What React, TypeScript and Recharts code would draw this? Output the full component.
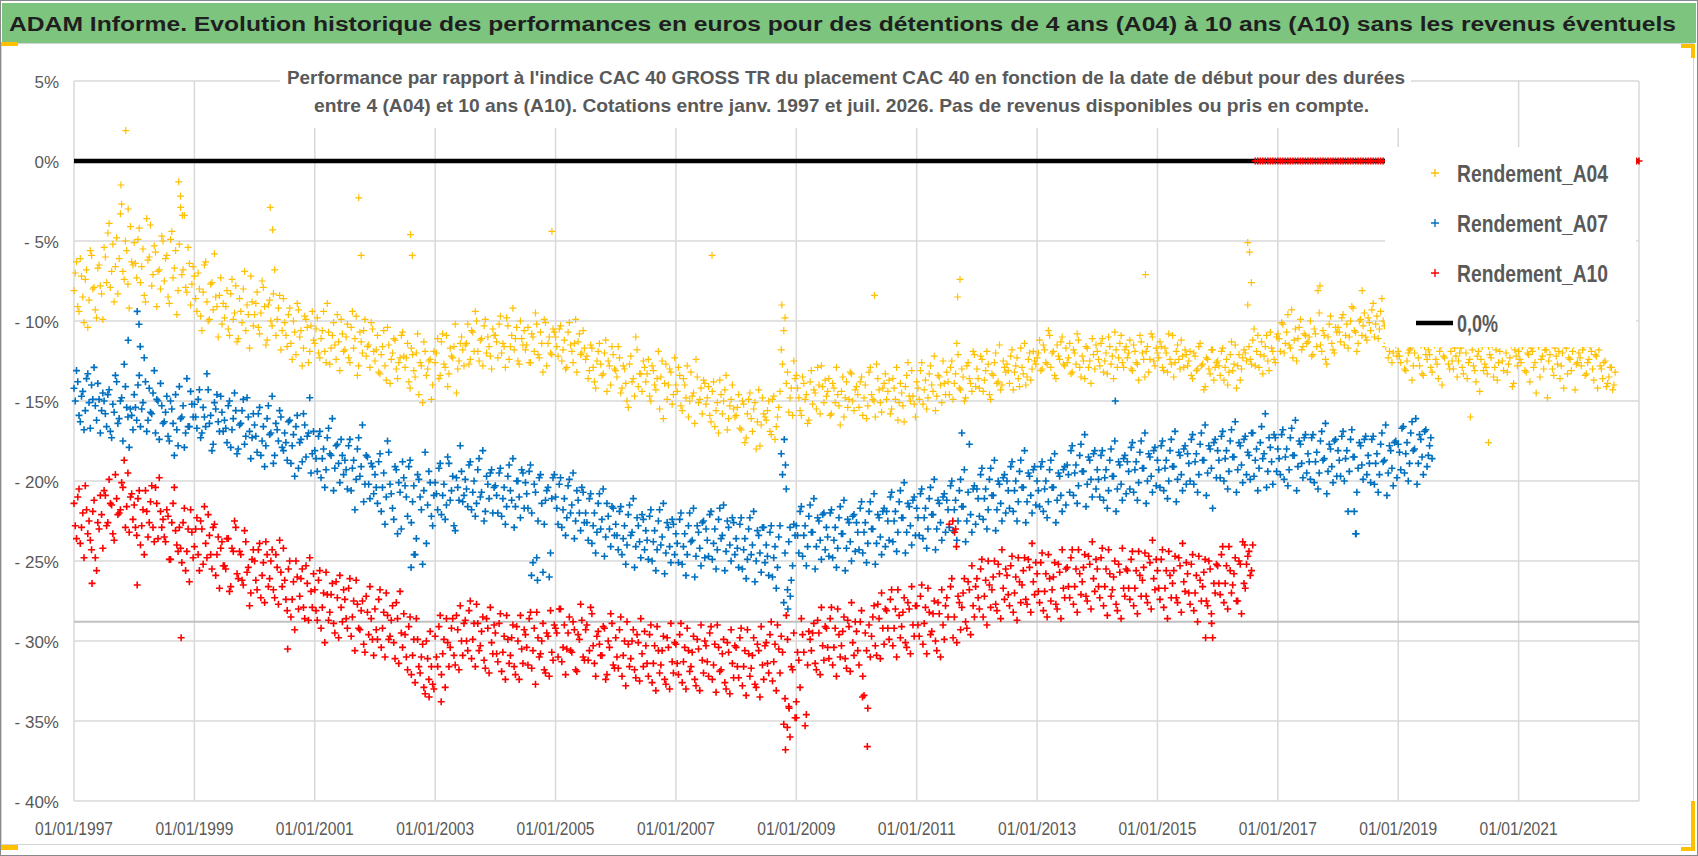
import React from 'react';
import { ScatterChart, Scatter, XAxis, YAxis, CartesianGrid, ReferenceLine, Legend } from 'recharts';

// relevés semi-mensuels à partir du 01/01/1997 (série "b" décalée d'une semaine)
const START_YEAR = 1997;
const PER_YEAR = 24;

const xTicks = [1997, 1999, 2001, 2003, 2005, 2007, 2009, 2011, 2013, 2015, 2017, 2019, 2021];
const yTicks = [5, 0, -5, -10, -15, -20, -25, -30, -35, -40];
const xDomain = [1997, 2023];
const yDomain = [-40, 5];
const refLevel = -28.8;
const zeroLine = [1997, 2023];

const rendementA04 = [
  -8.1, -6.3, -9.4, -7.2, -10.1, -6.8, -8.7, -5.9, -7.9, -9.8, -6.5, -8.3, -5.4, -7.6, -3.9, -6.9, -8.8, -4.8, -6.1, -2.7, -7.4, -5.6, -9.2, -6.3, // 1997
  -5.1, -7.3, -4.2, -6.6, -8.4, -3.6, -6.0, -7.8, -5.3, -9.1, -6.8, -4.7, -7.5, -5.9, -8.9, -4.4, -6.7, -9.6, -5.2, -7.1, -3.4, -8.2, -6.4, -7.7, // 1998
  -7.2, -9.4, -8.0, -10.6, -6.5, -8.8, -9.9, -7.6, -5.8, -9.1, -8.4, -10.2, -9.8, -8.1, -10.9, -7.4, -9.5, -11.3, -8.6, -10.1, -6.9, -9.0, -11.7, -8.8, // 1999
  -9.6, -8.2, -10.8, -7.5, -9.1, -11.2, -8.7, -10.3, -6.8, -9.9, -8.4, -10.6, -10.1, -11.6, -9.2, -12.4, -10.7, -8.9, -11.0, -12.8, -9.7, -10.4, -11.9, -9.4, // 2000
  -11.4, -9.8, -12.3, -10.6, -11.9, -8.9, -12.7, -10.9, -11.5, -9.6, -13.1, -10.8, -11.8, -10.2, -12.6, -9.4, -11.1, -13.4, -10.7, -12.0, -9.9, -11.6, -12.9, -10.5, // 2001
  -12.5, -10.9, -13.3, -11.6, -12.8, -10.4, -13.9, -12.0, -11.2, -13.6, -12.3, -10.7, -12.9, -11.4, -14.2, -12.1, -13.5, -10.8, -12.6, -15.1, -11.9, -13.0, -12.4, -14.0, // 2002
  -12.6, -11.1, -13.4, -10.8, -12.9, -14.1, -11.7, -12.3, -10.2, -13.0, -11.4, -11.8, -11.5, -10.2, -12.4, -10.7, -9.4, -11.9, -11.2, -12.8, -9.9, -11.0, -12.2, -10.5, // 2003
  -10.9, -12.3, -9.7, -11.4, -12.9, -10.3, -11.6, -9.2, -11.1, -12.5, -10.0, -11.5, -11.8, -10.4, -12.6, -11.0, -9.5, -12.1, -10.7, -13.2, -10.1, -11.4, -12.0, -10.5, // 2004
  -11.0, -12.2, -10.3, -11.8, -13.0, -10.7, -11.5, -12.6, -9.9, -11.3, -12.1, -10.6, -12.4, -13.6, -11.5, -12.9, -14.2, -11.9, -12.7, -13.3, -11.2, -12.5, -14.0, -12.1, // 2005
  -13.1, -11.6, -14.5, -12.8, -13.9, -15.4, -12.2, -13.6, -11.0, -14.1, -13.3, -12.5, -13.8, -12.4, -15.0, -13.1, -14.3, -11.9, -13.5, -16.1, -12.7, -14.0, -13.2, -14.6, // 2006
  -14.0, -12.9, -15.3, -13.6, -14.8, -16.0, -13.2, -14.5, -12.4, -15.1, -14.2, -13.7, -15.2, -14.1, -16.3, -13.8, -15.6, -17.0, -14.6, -15.0, -13.4, -16.1, -14.9, -15.5, // 2007
  -15.9, -14.6, -16.8, -15.2, -17.3, -14.9, -16.1, -15.5, -18.0, -14.3, -16.5, -15.8, -16.2, -15.0, -17.1, -14.7, -16.6, -15.4, -11.8, -10.6, -13.9, -15.7, -14.2, -12.5, // 2008
  -13.4, -14.8, -15.9, -13.9, -14.6, -16.2, -13.1, -14.3, -15.5, -14.0, -12.8, -15.1, -14.7, -13.6, -15.8, -14.2, -12.9, -15.3, -14.4, -16.0, -13.8, -14.9, -13.3, -15.6, // 2009
  -14.1, -15.4, -13.5, -14.8, -16.1, -13.2, -14.6, -15.0, -12.7, -14.3, -15.7, -13.9, -14.9, -13.7, -15.5, -14.2, -12.9, -15.1, -14.5, -16.3, -13.4, -14.7, -13.1, -15.2, // 2010
  -13.8, -14.9, -12.6, -14.3, -15.5, -13.3, -14.0, -12.2, -14.7, -13.5, -15.1, -13.9, -13.2, -14.6, -12.5, -13.9, -11.4, -14.2, -13.0, -15.0, -12.8, -13.6, -14.4, -12.1, // 2011
  -13.0, -14.2, -12.4, -13.7, -11.9, -14.6, -13.3, -12.6, -13.9, -11.5, -14.0, -12.9, -12.7, -13.9, -11.8, -13.2, -12.3, -14.1, -12.9, -11.4, -13.5, -12.0, -13.0, -12.5, // 2012
  -12.3, -11.2, -13.0, -11.8, -12.7, -10.9, -12.0, -13.4, -11.5, -12.4, -11.0, -12.8, -12.6, -11.4, -13.2, -12.0, -10.8, -12.9, -12.2, -13.6, -11.7, -12.5, -11.1, -13.0, // 2013
  -11.9, -12.8, -11.1, -12.5, -13.3, -11.6, -12.2, -10.7, -12.9, -11.4, -12.6, -11.8, -12.3, -11.2, -13.1, -11.9, -12.7, -10.9, -12.0, -13.5, -11.6, -12.4, -11.0, -12.8, // 2014
  -12.0, -11.3, -12.9, -11.7, -13.2, -12.4, -10.9, -12.6, -11.5, -13.0, -12.2, -11.8, -12.8, -11.9, -13.6, -12.2, -13.0, -11.4, -12.7, -14.1, -12.4, -13.3, -11.8, -12.9, // 2015
  -12.5, -13.4, -11.7, -12.9, -14.0, -12.1, -13.1, -11.5, -12.8, -13.7, -12.3, -12.0, -9.0, -12.4, -11.2, -12.8, -10.9, -12.1, -13.3, -11.6, -12.5, -10.7, -11.9, -12.6, // 2016
  -10.8, -11.9, -10.2, -11.4, -9.6, -11.7, -12.3, -10.5, -11.1, -9.9, -11.6, -10.9, -11.3, -10.0, -12.1, -10.8, -8.1, -11.5, -10.6, -12.4, -11.0, -9.7, -11.8, -10.4, // 2017
  -10.4, -11.3, -9.6, -10.9, -11.7, -10.0, -9.2, -10.7, -11.4, -9.9, -10.3, -11.0, -9.8, -10.6, -8.9, -10.2, -11.1, -9.4, -10.0, -11.6, -12.3, -11.1, -12.0, -11.5, // 2018
  -11.9, -12.6, -11.2, -13.1, -12.0, -11.7, -12.8, -10.9, -12.3, -11.5, -13.4, -12.1, -11.8, -12.9, -11.1, -12.4, -13.6, -11.6, -12.2, -10.8, -12.7, -11.9, -13.0, -12.2, // 2019
  -12.5, -11.7, -13.3, -12.0, -12.6, -11.4, -12.8, -13.8, -11.9, -12.4, -13.1, -12.9, -11.6, -12.3, -13.5, -11.8, -12.6, -11.2, -13.1, -12.0, -12.7, -11.5, -13.9, -12.2, // 2020
  -11.9, -12.6, -11.3, -13.2, -12.1, -11.7, -12.9, -14.5, -11.6, -12.4, -13.0, -11.8, -12.5, -11.4, -13.4, -12.2, -11.9, -12.8, -14.2, -11.7, -12.3, -13.1, -11.5, -12.7, // 2021
  -12.0, -12.8, -11.6, -13.3, -12.4, -11.9, -13.7, -12.2, -11.8, -13.0, -12.6, -14.1, -13.5, -12.9, -14.0, // 2022
];

const rendementA04b = [
  -7.0, -9.1, -6.1, -8.5, -7.4, -10.4, -5.6, -8.0, -9.3, -6.7, -7.8, -9.9, -6.0, -4.5, -7.9, -5.2, -6.6, -8.3, -3.3, -6.9, -5.0, -7.7, -4.1, -6.5, // 1997
  -6.4, -4.9, -7.6, -5.5, -8.8, -6.2, -4.0, -7.1, -5.7, -6.9, -8.0, -5.0, -6.1, -8.5, -4.9, -7.3, -5.6, -8.1, -2.9, -6.8, -7.9, -5.4, -9.0, -6.6, // 1998
  -8.6, -7.0, -9.7, -8.2, -6.3, -10.0, -7.7, -9.3, -8.5, -11.0, -7.3, -8.9, -9.1, -10.5, -8.3, -9.9, -7.8, -11.1, -9.4, -8.0, -10.6, -9.6, -7.2, -10.3, // 1999
  -8.9, -10.4, -9.5, -7.9, -11.5, -9.0, -10.0, -8.3, -10.9, -9.2, -11.8, -8.6, -10.9, -9.6, -11.4, -10.0, -12.1, -9.3, -10.6, -11.7, -9.9, -12.6, -10.3, -11.2, // 2000
  -10.5, -12.0, -11.1, -9.4, -12.6, -10.7, -11.7, -10.1, -12.4, -11.3, -9.9, -11.9, -11.0, -12.3, -10.4, -11.7, -9.7, -12.8, -11.3, -10.6, -12.2, -11.5, -10.1, -11.9, // 2001
  -11.8, -13.2, -12.1, -10.6, -13.7, -11.5, -12.4, -11.1, -13.0, -12.6, -10.9, -12.2, -12.3, -13.8, -11.7, -13.1, -12.0, -14.6, -12.8, -11.3, -13.4, -12.5, -14.9, -11.9, // 2002
  -12.0, -13.6, -11.3, -12.7, -10.9, -13.3, -12.2, -11.6, -14.5, -12.5, -11.0, -12.8, -11.4, -12.7, -10.6, -11.9, -10.0, -12.5, -11.1, -10.3, -12.0, -11.6, -13.0, -10.9, // 2003
  -11.3, -10.2, -12.0, -11.6, -9.8, -12.4, -10.9, -11.8, -10.4, -12.7, -11.1, -10.6, -11.5, -12.6, -10.8, -11.9, -10.2, -12.3, -11.4, -9.9, -12.8, -11.0, -12.1, -10.7, // 2004
  -11.6, -10.5, -12.5, -11.2, -12.9, -10.1, -11.9, -11.4, -13.2, -10.8, -12.0, -11.7, -12.2, -13.1, -11.7, -13.8, -12.5, -11.4, -13.4, -12.0, -14.4, -12.8, -11.6, -13.0, // 2005
  -13.5, -12.3, -14.2, -13.0, -15.0, -12.7, -13.8, -14.7, -11.8, -13.3, -14.4, -12.9, -13.3, -14.7, -12.8, -14.0, -13.6, -15.5, -12.5, -13.9, -14.9, -13.0, -15.2, -12.3, // 2006
  -14.4, -13.4, -15.6, -14.0, -12.8, -15.0, -14.7, -16.4, -13.5, -14.9, -15.8, -13.9, -14.8, -15.9, -14.4, -16.6, -15.1, -13.7, -15.8, -14.3, -16.8, -15.3, -14.0, -16.0, // 2007
  -15.4, -16.7, -15.0, -17.6, -15.8, -14.5, -16.9, -15.1, -16.3, -17.8, -14.8, -16.0, -15.6, -16.9, -14.9, -17.4, -16.0, -14.4, -12.7, -9.8, -13.2, -14.8, -15.9, -13.6, // 2008
  -14.2, -15.6, -13.5, -14.9, -16.4, -13.8, -15.2, -14.5, -12.9, -15.8, -14.1, -13.7, -14.4, -15.9, -13.9, -15.1, -14.6, -16.5, -13.5, -14.8, -15.4, -13.2, -15.0, -14.3, // 2009
  -14.6, -13.8, -15.9, -14.0, -15.3, -12.9, -14.9, -16.0, -13.6, -15.1, -14.2, -13.3, -14.4, -15.8, -13.6, -14.9, -16.2, -13.9, -15.3, -14.1, -12.6, -15.0, -14.7, -16.0, // 2010
  -14.2, -13.1, -15.2, -13.7, -14.8, -12.8, -14.4, -15.6, -13.4, -14.0, -12.5, -14.6, -13.8, -12.9, -14.9, -13.3, -12.1, -14.3, -13.5, -14.8, -12.6, -13.9, -11.9, -14.1, // 2011
  -13.6, -12.2, -14.4, -13.1, -12.7, -14.9, -13.4, -12.0, -13.8, -14.3, -12.5, -13.2, -13.1, -12.2, -14.3, -12.8, -13.6, -11.7, -13.3, -14.0, -12.4, -13.7, -11.9, -12.7, // 2012
  -12.0, -13.1, -11.5, -12.6, -10.6, -12.9, -11.9, -13.6, -12.2, -11.3, -12.7, -11.7, -12.3, -13.3, -11.8, -12.7, -11.2, -13.5, -12.5, -11.6, -12.9, -13.9, -12.1, -11.5, // 2013
  -12.4, -11.4, -13.2, -12.0, -11.0, -12.7, -13.6, -11.8, -12.3, -10.9, -12.9, -11.6, -12.0, -13.0, -11.5, -12.6, -13.7, -11.3, -12.4, -11.9, -13.2, -10.8, -12.5, -11.7, // 2014
  -12.3, -11.6, -13.1, -12.0, -10.8, -12.7, -13.5, -11.9, -12.4, -11.2, -12.9, -12.1, -12.5, -13.4, -12.0, -13.1, -11.6, -12.8, -14.3, -12.3, -13.0, -11.8, -13.7, -12.6, // 2015
  -12.8, -11.9, -13.7, -12.4, -13.2, -11.3, -12.7, -14.2, -12.1, -13.0, -11.8, -12.5, -11.6, -12.7, -10.5, -11.9, -12.9, -11.3, -12.2, -10.9, -13.1, -11.7, -12.4, -11.0, // 2016
  -11.1, -10.1, -12.0, -10.7, -11.5, -9.3, -11.2, -12.5, -10.4, -11.8, -10.8, -11.4, -11.0, -12.2, -10.5, -11.6, -9.5, -11.9, -10.9, -12.7, -10.2, -11.4, -12.0, -10.7, // 2017
  -10.7, -9.8, -11.5, -10.2, -11.0, -9.1, -10.6, -11.9, -10.0, -10.9, -9.5, -11.2, -10.1, -9.3, -11.0, -9.7, -10.5, -8.6, -10.3, -11.4, -11.9, -12.6, -11.4, -12.2, // 2018
  -12.2, -11.4, -13.0, -12.5, -11.8, -13.7, -12.0, -11.2, -12.8, -13.3, -11.6, -12.4, -12.1, -13.2, -11.5, -12.7, -11.9, -14.0, -12.3, -11.3, -13.0, -12.5, -11.7, -13.5, // 2019
  -12.0, -12.9, -11.3, -13.6, -12.4, -11.8, -13.1, -12.2, -14.4, -11.6, -12.7, -13.3, -12.1, -11.5, -12.9, -13.7, -11.9, -12.5, -11.4, -13.2, -12.3, -14.1, -11.8, -12.8, // 2020
  -12.4, -11.6, -13.1, -12.0, -13.8, -11.9, -12.6, -11.3, -13.5, -12.2, -11.8, -14.8, -12.1, -13.0, -11.7, -12.7, -13.6, -12.0, -11.5, -13.3, -12.4, -11.9, -14.3, -12.6, // 2021
  -12.3, -11.8, -13.4, -12.6, -11.6, -13.0, -12.1, -14.2, -12.8, -13.6, -12.5, -13.9, -12.9, -14.3, -13.2, // 2022
];

const rendementA07 = [
  -14.2, -13.1, -15.9, -14.7, -16.8, -13.6, -15.1, -14.0, -12.9, -16.2, -14.9, -15.6, -15.0, -16.6, -14.3, -17.3, -15.7, -13.8, -16.1, -14.8, -12.7, -15.4, -17.9, -15.9, // 1997
  -14.6, -16.2, -13.4, -15.5, -12.3, -16.9, -14.2, -15.8, -13.1, -14.9, -17.4, -15.3, -16.3, -14.7, -17.5, -15.5, -18.4, -16.8, -14.1, -16.0, -17.9, -13.6, -16.6, -15.2, // 1998
  -15.2, -16.7, -14.3, -17.0, -16.0, -13.3, -16.4, -18.1, -15.1, -14.6, -16.9, -15.7, -16.2, -17.6, -15.0, -16.8, -14.5, -18.3, -16.5, -15.6, -17.7, -14.8, -16.9, -17.3, // 1999
  -16.5, -18.2, -15.4, -17.5, -19.1, -16.1, -17.1, -14.7, -18.4, -16.8, -15.6, -17.9, -17.0, -18.7, -16.2, -17.8, -19.7, -15.9, -17.6, -18.8, -16.5, -17.2, -14.8, -18.3, // 2000
  -18.1, -19.4, -16.9, -18.6, -20.4, -17.3, -18.3, -16.1, -19.2, -17.7, -20.1, -18.4, -18.7, -20.5, -17.4, -19.2, -21.8, -18.0, -19.7, -16.5, -20.2, -18.5, -21.1, -19.1, // 2001
  -19.6, -21.4, -18.3, -20.4, -22.7, -17.5, -20.2, -21.7, -19.1, -23.3, -20.7, -18.8, -20.3, -22.2, -18.7, -21.3, -24.6, -19.6, -21.0, -25.2, -18.2, -21.5, -20.1, -22.8, // 2002
  -20.1, -21.8, -18.9, -20.9, -22.4, -18.5, -21.2, -19.7, -23.1, -20.4, -17.8, -21.3, -19.9, -21.6, -18.8, -20.7, -22.2, -19.3, -21.0, -18.1, -21.9, -20.2, -19.5, -22.0, // 2003
  -20.3, -22.0, -19.2, -21.1, -22.7, -19.7, -20.6, -18.6, -21.6, -20.0, -22.3, -19.5, -20.1, -21.7, -19.0, -25.1, -20.7, -22.5, -19.6, -25.7, -21.2, -20.4, -24.5, -19.8, // 2004
  -21.0, -22.7, -19.8, -21.8, -23.4, -20.3, -22.0, -19.5, -22.5, -21.2, -23.1, -20.7, -22.0, -23.7, -20.8, -22.8, -24.5, -21.4, -23.0, -20.5, -23.5, -22.2, -24.1, -21.7, // 2005
  -22.7, -24.3, -21.6, -23.6, -25.2, -22.1, -23.4, -21.1, -24.1, -22.8, -24.8, -22.4, -23.1, -24.9, -21.8, -23.8, -25.6, -22.5, -24.0, -21.4, -24.5, -22.9, -25.1, -22.7, // 2006
  -23.3, -25.1, -22.0, -24.1, -25.9, -22.8, -23.8, -21.7, -24.7, -23.2, -25.3, -22.5, -23.0, -24.7, -21.9, -23.9, -25.5, -22.4, -23.6, -21.5, -24.4, -22.9, -25.0, -22.6, // 2007
  -23.6, -25.4, -22.3, -24.3, -26.1, -23.0, -24.6, -21.9, -25.0, -23.4, -25.7, -22.9, -24.0, -25.9, -22.8, -24.8, -26.7, -23.5, -18.3, -27.6, -20.5, -23.8, -26.2, -22.7, // 2008
  -22.8, -24.5, -21.6, -23.4, -25.3, -22.2, -23.2, -21.1, -24.1, -22.5, -24.9, -22.0, -22.9, -24.7, -21.8, -23.7, -25.4, -22.3, -23.3, -21.2, -24.2, -22.6, -25.0, -22.1, // 2009
  -22.6, -24.3, -21.3, -23.2, -25.1, -21.9, -23.0, -20.8, -23.9, -22.3, -24.6, -21.7, -21.9, -23.7, -20.7, -22.5, -24.4, -21.3, -22.3, -20.1, -23.2, -21.6, -24.0, -21.0, // 2010
  -21.7, -23.4, -20.5, -22.3, -24.2, -21.1, -22.1, -19.9, -23.0, -21.4, -23.7, -20.8, -21.2, -22.9, -20.0, -21.8, -23.7, -20.6, -21.6, -19.3, -22.5, -17.7, -23.2, -20.3, // 2011
  -20.5, -22.2, -19.2, -21.1, -23.0, -19.9, -20.9, -18.7, -21.8, -20.2, -22.5, -19.6, -20.0, -21.7, -18.8, -20.6, -22.5, -19.4, -20.4, -18.1, -21.3, -19.7, -22.0, -19.1, // 2012
  -20.0, -21.6, -18.8, -20.5, -22.3, -19.3, -20.4, -18.3, -21.2, -19.7, -21.9, -19.1, -19.0, -20.7, -17.8, -19.5, -21.4, -18.4, -19.4, -17.1, -20.2, -18.7, -21.0, -18.1, // 2013
  -19.3, -21.0, -18.1, -19.8, -21.7, -18.7, -19.7, -17.5, -20.5, -19.0, -21.2, -18.4, -18.8, -20.5, -17.6, -19.3, -21.2, -18.2, -19.2, -17.0, -20.0, -18.5, -20.7, -17.9, // 2014
  -18.7, -20.4, -17.5, -19.2, -21.1, -18.1, -19.1, -16.9, -19.9, -18.4, -20.6, -17.8, -18.3, -20.0, -17.1, -18.8, -20.7, -17.7, -18.7, -16.5, -19.5, -18.0, -21.7, -17.4, // 2015
  -18.1, -19.8, -16.9, -18.6, -20.5, -17.5, -18.5, -16.3, -19.3, -17.8, -20.1, -17.2, -18.2, -19.9, -17.0, -18.7, -20.6, -17.6, -18.6, -15.8, -19.4, -17.9, -20.2, -17.3, // 2016
  -18.0, -19.6, -16.8, -18.5, -20.3, -17.3, -18.4, -16.2, -19.1, -17.7, -19.8, -17.1, -18.3, -19.9, -17.1, -18.8, -20.5, -17.5, -18.7, -16.4, -19.4, -18.0, -20.1, -17.4, // 2017
  -18.1, -19.7, -16.9, -18.6, -21.9, -17.4, -18.5, -23.3, -19.2, -17.8, -19.9, -17.2, -18.4, -20.1, -17.2, -18.9, -20.7, -17.7, -18.8, -16.5, -19.5, -18.1, -20.3, -17.5, // 2018
  -17.7, -19.3, -16.6, -18.3, -20.0, -17.0, -18.1, -16.1, -18.9, -17.4, -19.6, -16.8, -18.4, -17.3, // 2019
];

const rendementA07b = [
  -15.0, -13.8, -16.3, -14.4, -15.6, -13.3, -16.7, -14.9, -15.3, -13.9, -17.0, -14.5, -15.8, -14.6, -16.9, -15.2, -13.4, -16.4, -15.0, -17.5, -14.1, -16.0, -15.5, -16.8, // 1997
  -15.4, -14.0, -16.6, -15.1, -13.8, -16.2, -15.7, -14.5, -17.0, -15.0, -13.9, -16.4, -15.7, -17.2, -15.0, -16.4, -14.6, -17.8, -16.1, -15.3, -17.0, -16.6, -14.4, -16.0, // 1998
  -16.0, -14.9, -17.3, -15.4, -16.6, -14.3, -15.9, -17.7, -15.5, -16.3, -14.7, -16.9, -16.7, -15.3, -17.9, -16.1, -15.6, -18.0, -16.4, -14.9, -17.2, -16.0, -18.6, -15.8, // 1999
  -17.2, -15.8, -18.4, -16.6, -17.8, -15.3, -17.0, -18.9, -16.4, -17.5, -16.0, -18.1, -17.6, -16.3, -18.9, -17.1, -16.6, -19.2, -17.4, -15.8, -18.5, -17.0, -19.5, -16.9, // 2000
  -18.6, -17.2, -19.8, -18.0, -19.3, -16.7, -18.4, -20.6, -17.8, -18.9, -17.4, -19.6, -19.3, -17.8, -20.6, -18.7, -19.9, -17.3, -19.1, -21.3, -18.4, -20.2, -18.9, -20.8, // 2001
  -20.4, -18.8, -21.9, -19.5, -21.0, -18.2, -20.8, -22.4, -19.3, -20.1, -23.0, -19.8, -21.0, -19.1, -22.6, -20.3, -23.6, -19.9, -21.8, -20.6, -23.9, -19.4, -22.2, -20.9, // 2002
  -20.8, -19.2, -22.1, -20.2, -21.5, -18.9, -20.6, -22.8, -19.8, -21.2, -19.4, -20.9, -20.5, -19.0, -21.8, -20.0, -21.4, -18.6, -20.7, -22.5, -19.7, -21.1, -19.3, -20.4, // 2003
  -20.9, -19.5, -22.2, -20.4, -21.6, -19.0, -21.2, -22.9, -20.0, -21.0, -19.3, -21.7, -20.8, -19.4, -22.0, -20.2, -24.8, -19.8, -21.4, -22.7, -20.6, -26.0, -21.1, -19.6, // 2004
  -21.7, -20.2, -22.9, -21.1, -22.3, -19.9, -21.5, -23.6, -20.6, -22.0, -20.4, -22.6, -22.6, -21.1, -23.9, -22.0, -23.2, -20.8, -22.4, -24.7, -21.4, -23.0, -21.6, -23.4, // 2005
  -23.4, -21.9, -24.6, -22.8, -24.0, -21.5, -23.2, -25.4, -22.3, -23.8, -22.1, -24.3, -23.7, -22.2, -25.0, -23.1, -24.3, -21.8, -23.5, -25.8, -22.6, -24.1, -22.4, -24.6, // 2006
  -23.9, -22.4, -25.2, -23.3, -24.6, -22.0, -23.7, -26.0, -22.8, -24.2, -22.6, -24.8, -23.7, -22.1, -24.9, -23.0, -24.3, -21.7, -23.4, -25.6, -22.5, -24.0, -22.3, -24.6, // 2007
  -24.2, -22.7, -25.5, -23.6, -24.9, -22.3, -24.0, -26.3, -23.1, -24.5, -22.9, -25.1, -24.7, -23.2, -26.0, -24.1, -25.4, -22.8, -19.6, -24.5, -26.8, -22.9, -25.3, -23.4, // 2008
  -23.4, -21.9, -24.7, -22.8, -24.1, -21.5, -23.2, -25.5, -22.3, -23.7, -22.1, -24.3, -23.5, -22.0, -24.8, -22.9, -24.2, -21.6, -23.3, -25.6, -22.4, -23.8, -22.2, -24.4, // 2009
  -23.2, -21.7, -24.5, -22.6, -23.9, -21.3, -23.0, -25.2, -22.1, -23.5, -21.9, -24.1, -22.5, -21.0, -23.8, -21.9, -23.2, -20.6, -22.3, -24.5, -21.4, -22.8, -21.2, -23.4, // 2010
  -22.3, -20.8, -23.6, -21.7, -23.0, -20.4, -22.1, -24.3, -21.2, -22.6, -21.0, -23.2, -21.8, -20.3, -23.1, -21.2, -22.5, -19.9, -21.6, -23.8, -20.7, -22.1, -20.5, -22.7, // 2011
  -21.1, -19.6, -22.4, -20.5, -21.8, -19.2, -20.9, -23.1, -20.0, -21.4, -19.8, -22.0, -20.6, -19.1, -21.9, -20.0, -21.3, -18.7, -20.4, -22.6, -19.5, -20.9, -19.3, -21.5, // 2012
  -20.6, -19.1, -21.9, -20.0, -21.3, -18.7, -20.4, -22.6, -19.5, -20.9, -19.3, -21.5, -19.6, -18.1, -20.9, -19.0, -20.3, -17.7, -19.4, -21.6, -18.5, -19.9, -18.3, -20.5, // 2013
  -19.9, -18.4, -21.2, -19.3, -20.6, -18.0, -19.7, -21.9, -18.8, -20.2, -18.6, -20.8, -19.4, -17.9, -20.7, -18.8, -20.1, -17.5, -19.2, -21.4, -18.3, -19.7, -18.1, -20.3, // 2014
  -19.3, -17.8, -20.6, -18.7, -20.0, -17.4, -19.1, -21.3, -18.2, -19.6, -18.0, -20.2, -18.9, -17.4, -20.2, -18.3, -19.6, -17.0, -18.7, -20.9, -17.8, -19.2, -17.6, -19.8, // 2015
  -18.7, -17.2, -20.0, -18.1, -19.4, -16.8, -18.5, -20.7, -17.6, -19.0, -17.4, -19.6, -18.4, -17.0, -19.7, -18.0, -19.2, -16.6, -18.3, -20.4, -17.3, -18.8, -17.1, -19.4, // 2016
  -18.6, -17.1, -19.9, -18.0, -19.3, -16.7, -18.4, -20.6, -17.5, -18.9, -17.3, -19.5, -18.8, -17.3, -20.1, -18.2, -19.5, -16.9, -18.6, -20.8, -17.7, -19.1, -17.5, -19.7, // 2017
  -18.7, -17.2, -20.0, -18.1, -19.4, -16.8, -18.5, -20.7, -17.6, -19.0, -17.4, -19.6, -18.9, -17.4, -20.2, -18.3, -19.6, -17.0, -18.7, -20.9, -17.8, -19.2, -17.6, -19.8, // 2018
  -18.2, -16.7, -19.5, -17.6, -18.9, -16.3, -18.0, -20.2, -17.1, -18.5, -16.9, -19.1, -17.8, -18.6, // 2019
];

const rendementA10 = [
  -21.4, -23.6, -20.5, -22.9, -24.8, -21.8, -22.5, -24.3, -21.2, -25.6, -23.0, -22.1, -20.6, -22.8, -19.9, -21.5, -23.7, -21.1, -22.0, -20.1, -18.7, -21.6, -23.2, -20.8, // 1997
  -21.5, -23.4, -20.6, -22.8, -24.6, -21.9, -22.6, -20.3, -23.8, -21.4, -19.8, -22.9, -23.5, -21.8, -24.9, -22.6, -20.4, -24.0, -22.9, -25.1, -21.7, -24.4, -26.3, -23.2, // 1998
  -24.1, -22.3, -25.6, -23.0, -21.6, -24.8, -23.4, -25.5, -22.7, -24.6, -26.7, -23.8, -25.3, -23.6, -26.9, -24.2, -22.5, -25.8, -24.4, -26.2, -23.1, -25.7, -27.8, -24.9, // 1999
  -25.0, -26.8, -23.9, -25.9, -27.6, -24.6, -26.1, -24.3, -27.3, -25.4, -23.7, -26.6, -26.2, -28.1, -25.0, -27.4, -29.3, -26.0, -27.2, -25.5, -28.6, -26.4, -24.8, -27.9, // 2000
  -26.8, -28.7, -25.6, -27.9, -30.1, -27.1, -28.2, -26.4, -29.5, -27.3, -25.9, -28.8, -27.4, -29.2, -26.1, -28.5, -30.6, -27.7, -29.3, -27.5, -30.7, -28.2, -26.6, -29.9, // 2001
  -28.0, -29.9, -26.8, -29.2, -31.0, -28.4, -29.7, -27.8, -31.1, -28.6, -26.9, -30.4, -29.6, -31.8, -28.5, -30.9, -32.6, -29.9, -32.0, -30.2, -33.3, -31.1, -29.4, -32.7, // 2002
  -29.7, -31.6, -28.4, -30.8, -32.9, -30.1, -30.4, -28.6, -31.5, -29.3, -27.8, -30.9, -28.7, -30.6, -27.5, -29.9, -31.6, -28.9, -30.3, -28.5, -31.7, -29.2, -27.9, -30.8, // 2003
  -29.5, -31.3, -28.3, -30.7, -32.4, -29.9, -30.9, -29.0, -32.1, -30.0, -28.4, -31.4, -29.6, -31.5, -28.2, -30.6, -32.7, -29.8, -30.8, -28.9, -32.0, -29.7, -28.1, -31.2, // 2004
  -29.2, -31.0, -28.0, -30.4, -32.1, -29.5, -30.6, -28.8, -31.8, -29.6, -27.7, -31.0, -29.3, -31.2, -27.9, -30.3, -32.2, -29.4, -30.9, -29.1, -32.4, -30.0, -28.3, -31.5, // 2005
  -29.8, -31.7, -28.5, -30.9, -32.8, -30.2, -31.1, -29.3, -32.3, -30.1, -28.6, -31.6, -30.3, -32.2, -29.0, -31.4, -33.1, -30.6, -31.5, -29.7, -32.7, -30.4, -28.9, -32.0, // 2006
  -30.2, -32.1, -28.9, -31.3, -33.0, -30.6, -31.6, -29.7, -32.8, -30.5, -29.0, -32.0, -30.3, -32.2, -29.1, -31.5, -33.2, -30.4, -31.8, -29.9, -33.0, -30.7, -29.3, -32.3, // 2007
  -30.4, -32.3, -29.2, -31.6, -33.4, -30.8, -31.7, -29.8, -32.9, -30.6, -29.1, -32.4, -30.1, -32.0, -28.8, -31.3, -33.1, -30.5, -29.7, -35.2, -28.4, -34.1, -31.6, -29.5, // 2008
  -33.8, -31.2, -28.6, -30.7, -34.6, -29.4, -30.6, -28.9, -31.8, -29.5, -27.9, -31.2, -29.2, -31.1, -27.9, -30.4, -32.2, -29.6, -30.3, -28.5, -31.7, -29.1, -27.6, -30.9, // 2009
  -29.4, -31.5, -28.1, -33.4, -30.6, -29.0, -29.7, -27.8, -30.9, -28.6, -27.0, -30.2, -28.1, -29.9, -26.8, -29.2, -31.0, -28.4, -29.1, -27.3, -30.4, -28.0, -26.6, -29.7, // 2010
  -27.8, -29.7, -26.5, -28.9, -30.8, -28.2, -29.4, -27.5, -30.6, -28.3, -26.8, -29.9, -27.3, -22.7, -26.1, -28.5, -30.1, -27.6, -27.9, -26.1, -29.2, -26.8, -25.3, -28.5, // 2011
  -26.1, -28.0, -24.9, -27.2, -29.0, -26.5, -26.8, -25.0, -28.1, -25.8, -24.3, -27.4, -25.9, -27.8, -24.7, -27.0, -28.7, -26.3, -26.5, -24.8, -27.7, -25.4, -23.9, -27.1, // 2012
  -25.8, -27.6, -24.5, -26.9, -28.5, -26.1, -26.8, -25.1, -28.0, -25.7, -24.3, -27.3, -25.4, -27.3, -24.3, -26.6, -28.2, -25.8, -26.3, -24.6, -27.5, -25.2, -23.8, -26.9, // 2013
  -25.5, -27.3, -24.2, -26.6, -28.4, -25.8, -26.8, -25.0, -28.1, -25.7, -24.2, -27.2, -25.6, -27.4, -24.4, -26.7, -28.3, -25.9, -26.2, -24.5, -27.6, -25.1, -23.7, -26.8, // 2014
  -25.6, -27.4, -24.3, -26.7, -28.6, -25.9, -26.4, -24.7, -27.6, -25.3, -23.9, -26.9, -25.8, -27.7, -24.6, -27.0, -28.8, -26.2, -26.6, -24.9, -27.8, -25.5, -29.8, -27.0, // 2015
  -25.3, -27.1, -24.1, -26.4, -28.0, -25.6, -26.5, -24.8, -27.5, -25.2, -23.8, -26.7, -24.7, -25.9, -24.0, 0, 0, 0, 0, 0, 0, 0, 0, 0, // 2016
  0, 0, 0, 0, 0, 0, 0, 0, 0, 0, 0, 0, 0, 0, 0, 0, 0, 0, 0, 0, 0, 0, 0, 0, // 2017
  0, 0, 0, 0, 0, 0, 0, 0, 0, 0, 0, 0, 0, 0, 0, 0, 0, 0, 0, 0, 0, 0, 0, 0, // 2018
  0, 0, 0, 0, 0, 0, 0, 0, 0, 0, 0, 0, 0, 0, 0, 0, 0, 0, 0, 0, 0, 0, 0, 0, // 2019
  0, 0, 0, 0, 0, 0, 0, 0, 0, 0, 0, 0, 0, 0, 0, 0, 0, 0, 0, 0, 0, 0, 0, 0, // 2020
  0, 0, 0, 0, 0, 0, 0, 0, 0, 0, 0, 0, 0, 0, 0, 0, 0, 0, 0, 0, 0, 0, 0, 0, // 2021
  0, 0, 0, 0, 0, 0, 0, 0, 0, 0, 0, 0, 0, 0, 0, 0, 0, 0, 0, 0, 0, 0, 0, 0, // 2022
  0, // 2023
];

const rendementA10b = [
  -22.8, -21.0, -23.9, -22.0, -20.3, -23.3, -23.7, -21.9, -24.8, -22.6, -20.9, -24.2, -20.9, -22.6, -21.4, -23.3, -19.6, -22.1, -21.8, -20.4, -22.9, -19.5, -21.0, -22.4, // 1997
  -22.9, -21.1, -24.0, -21.8, -20.6, -23.5, -21.3, -22.9, -20.4, -23.6, -21.9, -22.4, -23.8, -22.2, -24.9, -21.4, -23.1, -24.4, -24.2, -22.6, -25.6, -23.0, -21.8, -24.8, // 1998
  -23.0, -24.6, -22.5, -25.2, -23.9, -22.1, -24.6, -22.9, -25.9, -23.5, -24.2, -25.3, -25.5, -23.6, -26.6, -24.4, -22.9, -26.1, -24.6, -26.5, -23.8, -25.4, -27.0, -24.3, // 1999
  -26.2, -24.3, -27.3, -25.1, -23.8, -26.6, -25.0, -26.8, -24.6, -27.7, -25.7, -24.2, -27.4, -25.5, -28.5, -26.3, -25.0, -28.0, -26.1, -27.9, -25.3, -28.7, -26.9, -25.8, // 2000
  -28.1, -26.2, -29.2, -27.0, -25.7, -28.7, -27.1, -28.9, -26.3, -29.8, -27.9, -26.8, -28.6, -26.7, -29.7, -27.5, -26.2, -29.2, -28.1, -30.2, -27.2, -29.6, -28.6, -30.9, // 2001
  -29.3, -27.4, -30.4, -28.2, -27.0, -29.9, -28.7, -30.1, -27.6, -31.4, -29.5, -28.3, -31.0, -29.1, -32.1, -29.9, -28.6, -31.6, -31.0, -32.9, -30.0, -32.4, -31.6, -33.0, // 2002
  -31.0, -29.1, -32.1, -29.9, -28.6, -31.6, -29.2, -30.9, -28.4, -31.8, -30.0, -28.9, -30.0, -28.1, -31.1, -28.9, -27.7, -30.6, -29.4, -31.2, -28.6, -32.0, -30.1, -29.0, // 2003
  -30.8, -28.9, -31.9, -29.7, -28.4, -31.4, -29.8, -31.6, -29.1, -32.4, -30.5, -29.3, -30.4, -28.6, -31.7, -29.2, -28.2, -31.0, -30.0, -31.8, -29.5, -32.2, -30.7, -29.0, // 2004
  -29.5, -28.0, -31.3, -29.0, -30.5, -28.5, -30.7, -29.3, -31.9, -29.9, -28.7, -31.2, -29.0, -30.6, -28.3, -31.4, -29.7, -30.2, -30.9, -29.2, -32.1, -30.4, -28.9, -31.7, // 2005
  -31.0, -29.3, -32.2, -30.0, -28.8, -31.6, -30.0, -31.8, -29.6, -32.5, -30.8, -29.4, -31.4, -29.6, -32.6, -30.3, -29.1, -32.0, -30.6, -32.4, -29.8, -33.0, -31.3, -30.1, // 2006
  -31.4, -29.6, -32.6, -30.4, -29.2, -31.9, -30.7, -32.4, -29.9, -33.1, -31.2, -30.0, -31.3, -29.5, -32.4, -30.2, -29.0, -31.9, -30.8, -32.6, -30.1, -33.3, -31.4, -30.3, // 2007
  -31.6, -29.8, -32.8, -30.6, -29.3, -32.2, -30.9, -32.7, -30.2, -33.5, -31.5, -30.3, -31.4, -29.6, -32.5, -30.2, -29.0, -32.0, -30.7, -33.6, -29.9, -36.0, -31.8, -34.8, // 2008
  -30.7, -32.9, -29.6, -35.3, -31.5, -29.9, -29.5, -31.4, -28.7, -32.1, -30.3, -29.1, -30.4, -28.6, -31.5, -29.2, -28.0, -31.0, -29.4, -31.1, -28.7, -31.9, -30.1, -28.8, // 2009
  -30.6, -28.8, -32.2, -29.5, -34.2, -31.0, -28.5, -30.3, -27.7, -31.1, -29.2, -28.0, -29.2, -27.4, -30.3, -28.0, -26.8, -29.8, -28.2, -30.1, -27.6, -30.8, -29.0, -27.8, // 2010
  -29.0, -27.2, -30.2, -27.9, -26.7, -29.6, -28.3, -30.0, -27.6, -31.0, -29.0, -27.8, -28.5, -26.6, -29.8, -23.0, -27.2, -29.3, -27.0, -28.8, -26.3, -29.6, -27.8, -26.6, // 2011
  -27.3, -25.5, -28.5, -26.2, -25.0, -27.9, -26.0, -27.7, -25.2, -28.6, -26.7, -25.5, -27.1, -25.3, -28.2, -26.0, -24.8, -27.6, -25.6, -27.4, -24.9, -28.2, -26.3, -25.1, // 2012
  -26.9, -25.1, -28.1, -25.8, -24.6, -27.5, -26.0, -27.7, -25.2, -28.6, -26.7, -25.5, -26.6, -24.8, -27.7, -25.5, -24.3, -27.1, -25.4, -27.2, -24.7, -28.0, -26.1, -24.9, // 2013
  -26.6, -24.8, -27.8, -25.5, -24.3, -27.2, -26.0, -27.7, -25.2, -28.6, -26.7, -25.5, -26.7, -24.9, -27.8, -25.6, -24.4, -27.2, -25.4, -27.2, -24.7, -28.0, -26.1, -24.9, // 2014
  -26.7, -24.9, -27.9, -25.6, -24.4, -27.3, -25.6, -27.3, -24.8, -28.2, -26.3, -25.1, -27.0, -25.2, -28.1, -25.9, -24.7, -27.5, -25.7, -27.5, -25.0, -28.3, -26.4, -25.2, // 2015
  -26.4, -24.6, -27.6, -25.3, -24.1, -27.0, -25.8, -27.5, -25.0, -28.3, -26.4, -25.2, -24.4, -25.6, // 2016
];

// points isolés [date, valeur]
const extraA04 = [
  [1997.78, -1.5], [1997.86, 1.9], [1997.9, -3.0], [1998.74, -1.3], [1998.77, -2.2], [1998.8, -3.4],
  [2000.26, -2.9], [2000.3, -4.3], [2001.73, -2.3], [2001.77, -5.9], [2002.59, -4.6], [2002.62, -5.9],
  [2004.94, -4.4], [2007.6, -5.9], [2008.76, -9.0], [2010.3, -8.4], [2011.68, -8.5], [2011.72, -7.4],
  [2014.8, -7.1], [2016.5, -5.1], [2016.53, -5.7], [2016.56, -7.6], [2017.7, -7.8], [2018.4, -8.1],
  [2020.2, -16.0], [2020.5, -17.6],
];
const extraA07 = [
  [1997.9, -11.2], [1998.05, -9.4], [1998.08, -10.2], [1998.1, -11.6], [2002.6, -25.4], [2002.65, -24.6],
  [2004.6, -25.9], [2004.7, -26.2], [2008.8, -17.4], [2008.82, -19.0], [2008.86, -28.0], [2008.9, -27.2],
  [2011.75, -17.0], [2014.3, -15.0], [2018.27, -21.9], [2018.3, -23.3],
];
const extraA10 = [
  [1997.3, -26.4], [1998.05, -26.5], [1998.78, -29.8], [2000.55, -30.5], [2002.9, -33.5], [2003.1, -33.8],
  [2008.82, -36.8], [2008.85, -35.4], [2008.88, -34.2], [2009.0, -34.8], [2010.1, -33.5], [2010.18, -36.6],
  [2011.6, -22.5], [2011.63, -23.2], [2011.66, -24.1], [2015.8, -29.8], [2015.9, -28.9], [2016.45, -24.0],
];

const FONT = "'Liberation Sans Narrow', 'Liberation Sans', Arial, sans-serif";
const GREY = '#595959';
const YELLOW = '#FFC000';
const BLUE = '#0070C0';
const RED = '#FF0000';

const toPoints = (values: number[], shift: number) =>
  values.map((v, i) => ({ x: START_YEAR + (i + shift) / PER_YEAR, y: v }));

const series = (a: number[], b: number[], extra: number[][]) => [
  ...toPoints(a, 0),
  ...toPoints(b, 0.5),
  ...extra.map(([x, y]) => ({ x, y })),
];

const dataA04 = series(rendementA04, rendementA04b, extraA04);
const dataA07 = series(rendementA07, rendementA07b, extraA07);
const dataA10 = series(rendementA10, rendementA10b, extraA10);
const dataZero = zeroLine.map((x) => ({ x, y: 0 }));

const fmtPct = (v: number) => (v < 0 ? `- ${Math.abs(v)}%` : `${v}%`);

const cross = (color: string, size: number, width: number) => (props: any) => {
  const { cx, cy } = props;
  if (cx == null || cy == null) return <g />;
  return (
    <path
      d={`M${cx - size},${cy}H${cx + size}M${cx},${cy - size}V${cy + size}`}
      stroke={color}
      strokeWidth={width}
      fill="none"
    />
  );
};

const YTick = ({ x, y, payload }: any) => (
  <text x={x} y={y + 7} textAnchor="end" fontFamily={FONT} fontSize={17} fill={GREY}>
    {fmtPct(payload.value)}
  </text>
);

const XTick = ({ x, y, payload }: any) => (
  <text
    x={x}
    y={y + 34}
    textAnchor="middle"
    textLength={78}
    lengthAdjust="spacingAndGlyphs"
    fontFamily={FONT}
    fontSize={18}
    fill={GREY}
  >
    {`01/01/${payload.value}`}
  </text>
);

const legendItems = [
  { label: 'Rendement_A04', color: YELLOW, line: false },
  { label: 'Rendement_A07', color: BLUE, line: false },
  { label: 'Rendement_A10', color: RED, line: false },
  { label: '0,0%', color: '#000', line: true },
];

function LegendBox() {
  return (
    <svg width={251} height={200} style={{ overflow: 'visible', display: 'block' }}>
      {legendItems.map((it, i) => {
        const cy = 26 + i * 50;
        return (
          <g key={it.label}>
            {it.line ? (
              <line x1={31} x2={68} y1={cy} y2={cy} stroke={it.color} strokeWidth={4.5} />
            ) : (
              <path d={`M46,${cy}H54M50,${cy - 4}V${cy + 4}`} stroke={it.color} strokeWidth={1.4} />
            )}
            <text
              x={72}
              y={cy + 9}
              fontFamily={FONT}
              fontSize={24}
              fontWeight={700}
              fill={GREY}
              textLength={it.line ? 41 : 151}
              lengthAdjust="spacingAndGlyphs"
            >
              {it.label}
            </text>
          </g>
        );
      })}
    </svg>
  );
}

export default function App() {
  return (
    <div
      style={{
        position: 'absolute',
        left: 0,
        top: 0,
        width: 1698,
        height: 856,
        background: '#fff',
        boxSizing: 'border-box',
        border: '1px solid #8a8a8a',
        overflow: 'hidden',
      }}
    >
      <div style={{ position: 'absolute', left: 1, top: 2, width: 1694, height: 40, background: '#7dc57f' }} />
      <div
        style={{
          position: 'absolute',
          left: 0,
          top: 42,
          width: 1693,
          height: 802,
          boxSizing: 'border-box',
          border: '1px solid #d4d4d4',
        }}
      />
      <div style={{ position: 'absolute', left: -1, top: 41, width: 18, height: 4, background: YELLOW }} />
      <div style={{ position: 'absolute', left: -1, top: 844, width: 18, height: 5, background: YELLOW }} />
      <div style={{ position: 'absolute', left: 1680, top: 43, width: 14, height: 4, background: YELLOW }} />
      <div style={{ position: 'absolute', left: 1690, top: 43, width: 4, height: 14, background: YELLOW }} />
      <div style={{ position: 'absolute', left: 1690, top: 800, width: 4, height: 50, background: YELLOW }} />
      <div style={{ position: 'absolute', left: 1680, top: 846, width: 14, height: 4, background: YELLOW }} />

      <div style={{ position: 'absolute', left: -1, top: -1 }}>
        <ScatterChart width={1698} height={856} margin={{ top: 81, right: 59, bottom: 0, left: 14 }}>
          <CartesianGrid stroke="#d9d9d9" strokeWidth={1.5} />
          <XAxis
            type="number"
            dataKey="x"
            domain={xDomain}
            ticks={xTicks}
            height={55}
            axisLine={false}
            tickLine={false}
            tickSize={0}
            tickMargin={0}
            tick={<XTick />}
            interval={0}
          />
          <YAxis
            type="number"
            dataKey="y"
            domain={yDomain}
            ticks={yTicks}
            width={60}
            axisLine={false}
            tickLine={false}
            tickSize={0}
            tickMargin={15}
            tick={<YTick />}
            interval={0}
          />
          <ReferenceLine y={refLevel} stroke="#c0c0c0" strokeWidth={2} />
          <Scatter
            name="0,0%"
            data={dataZero}
            line={{ stroke: '#000', strokeWidth: 4.5 }}
            shape={() => <g />}
            isAnimationActive={false}
          />
          <Scatter name="Rendement_A04" data={dataA04} fill={YELLOW} shape={cross(YELLOW, 3.5, 1.2)} isAnimationActive={false} />
          <Scatter name="Rendement_A07" data={dataA07} fill={BLUE} shape={cross(BLUE, 3.5, 1.6)} isAnimationActive={false} />
          <Scatter name="Rendement_A10" data={dataA10} fill={RED} shape={cross(RED, 3.5, 1.6)} isAnimationActive={false} />
          <Legend
            layout="vertical"
            align="center"
            verticalAlign="middle"
            content={<LegendBox />}
            wrapperStyle={{ left: 1385, top: 147, width: 251, height: 200, background: '#fff' }}
          />
        </ScatterChart>
      </div>

      <svg
        width={1698}
        height={856}
        style={{ position: 'absolute', left: -1, top: -1, pointerEvents: 'none' }}
      >
        <text
          x={9}
          y={31}
          textLength={1667}
          lengthAdjust="spacingAndGlyphs"
          fontFamily={FONT}
          fontSize={20}
          fontWeight={700}
          fill="#1f1f1f"
        >
          ADAM Informe. Evolution historique des performances en euros pour des détentions de 4 ans (A04) à 10 ans (A10) sans les revenus éventuels
        </text>
        <rect x={280} y={60} width={1131} height={68} fill="#fff" />
        <text
          x={287}
          y={84}
          textLength={1118}
          lengthAdjust="spacingAndGlyphs"
          fontFamily={FONT}
          fontSize={19}
          fontWeight={700}
          fill={GREY}
        >
          Performance par rapport à l'indice CAC 40 GROSS TR  du placement CAC 40 en fonction de la date de début pour des durées
        </text>
        <text
          x={314}
          y={112}
          textLength={1055}
          lengthAdjust="spacingAndGlyphs"
          fontFamily={FONT}
          fontSize={19}
          fontWeight={700}
          fill={GREY}
        >
          entre 4 (A04) et 10 ans (A10).  Cotations entre janv. 1997 et juil. 2026. Pas de revenus disponibles ou pris en compte.
        </text>
      </svg>
    </div>
  );
}
